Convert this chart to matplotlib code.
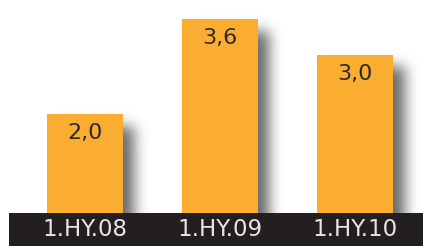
import matplotlib
matplotlib.use("Agg")
import numpy as np
from matplotlib import pyplot as plt
from matplotlib.patches import Rectangle

periods = ["1.HY.08", "1.HY.09", "1.HY.10"]
werte = [2.0, 3.6, 3.0]
labels = ["2,0", "3,6", "3,0"]

orange = "#fbad32"
band_farbe = "#231f20"

fig = plt.figure(figsize=(4.23, 2.46), dpi=100)
ax = fig.add_axes([0, 0, 1, 1])
xlim = (-0.63, 2.504)
ylim = (-0.222, 3.919)
ax.axis("off")

x = list(range(len(werte)))
breite = 0.563
px_x = 423 / (xlim[1] - xlim[0])  # Pixel pro Dateneinheit
px_y = 246 / (ylim[1] - ylim[0])


def blur(a, s):
    r = int(3 * s)
    k = np.exp(-0.5 * (np.arange(-r, r + 1) / s) ** 2)
    k /= k.sum()
    a = np.apply_along_axis(lambda z: np.convolve(z, k, mode="same"), 0, a)
    a = np.apply_along_axis(lambda z: np.convolve(z, k, mode="same"), 1, a)
    return a


# weicher Schatten rechts neben den Balken
for i, v in enumerate(werte):
    bw = int(breite * px_x)
    bh = int(v * px_y)
    pad = 50
    img = np.zeros((bh + pad, bw + pad))
    img[pad + 12:, 12:bw + 12] = 1.0  # Zeile 0 = oben
    img = blur(img, 7)
    rgba = np.zeros(img.shape + (4,))
    rgba[..., 3] = img * 0.6
    x0 = i - breite / 2
    ax.imshow(rgba, extent=(x0, x0 + (bw + pad) / px_x, 0, v + pad / px_y),
              aspect="auto", interpolation="bilinear", zorder=1)

ax.bar(x, werte, width=breite, color=orange, linewidth=0, zorder=2)
ax.set_xlim(*xlim)
ax.set_ylim(*ylim)

for i, v in enumerate(werte):
    ax.annotate(labels[i], (i, v), xytext=(0, -9), textcoords="offset pixels",
                ha="center", va="top", fontsize=16, color="#2b2b2b", zorder=3)

ax.add_patch(Rectangle((9 / 423, 0), 1, 33 / 246, transform=ax.transAxes,
                       color=band_farbe, zorder=4, linewidth=0))
for i, p in enumerate(periods):
    ax.text(i, 0.067, p, transform=ax.get_xaxis_transform(), ha="center", va="center",
            fontsize=16.5, color="#e6e6e6", zorder=5)

fig.savefig("out.png", dpi=100)
